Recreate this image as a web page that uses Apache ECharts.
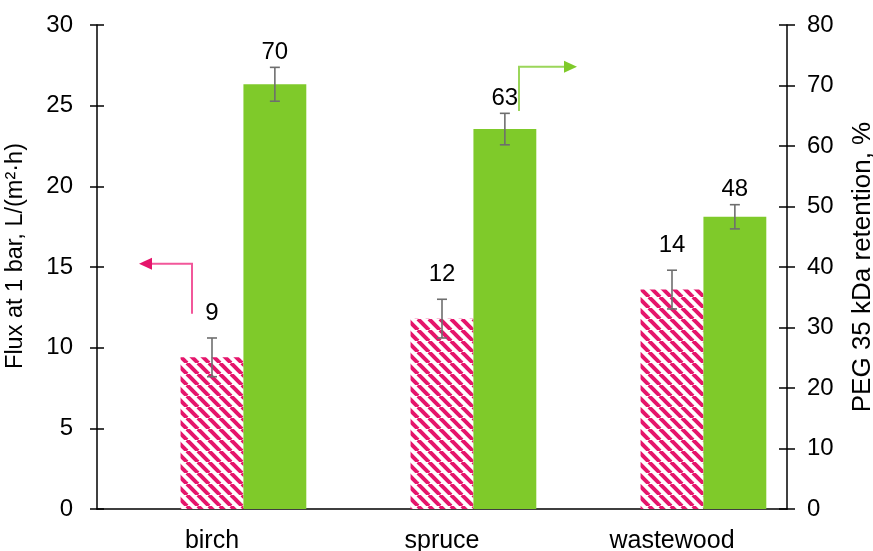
<!DOCTYPE html>
<html>
<head>
<meta charset="utf-8">
<script src="https://cdn.jsdelivr.net/npm/echarts@6/dist/echarts.min.js"></script>
<style>
  html, body { margin: 0; padding: 0; background: #fff; }
  #chart { width: 873px; height: 551px; }
</style>
</head>
<body>
<div id="chart"></div>
<script>
// Wood types
const categories = ['birch', 'spruce', 'wastewood'];
// Pure water flux at 1 bar, L/(m2·h), with standard deviation
const flux = [9.4, 11.8, 13.6];
const fluxErr = [1.2, 1.2, 1.2];
// PEG 35 kDa retention, %, with standard deviation
const retention = [70.2, 62.8, 48.3];
const retentionErr = [2.8, 2.6, 2.0];
// Axis scales
const fluxAxis = { min: 0, max: 30, interval: 5 };
const retentionAxis = { min: 0, max: 80, interval: 10 };

const FONT = '"Liberation Sans", Arial, sans-serif';
const PINK = '#E5156B';
const GREEN = '#7FCA2A';
const CAT_GAP = 0.18;   // free share of each category band
const SLOTS = 3;        // bar slots per category: empty, flux, retention

// diagonal pink/white hatch
function hatch() {
  const s = 11;
  const c = document.createElement('canvas');
  c.width = s; c.height = s;
  const g = c.getContext('2d');
  g.fillStyle = '#fff';
  g.fillRect(0, 0, s, s);
  g.strokeStyle = PINK;
  g.lineWidth = 4;
  for (const k of [-s, 0, s]) {
    g.beginPath();
    g.moveTo(k, 0);
    g.lineTo(k + s, s);
    g.stroke();
  }
  return c;
}

// error bar + value label drawn at the centre of one bar slot
function errorBar(slot, labelGap) {
  return function (params, api) {
    const cat = api.value(0), v = api.value(1), e = api.value(2);
    const band = api.size([1, 0])[0];
    const barW = band * (1 - CAT_GAP) / SLOTS;
    const cx = api.coord([cat, 0])[0] + slot * barW;
    const hi = api.coord([cat, v + e])[1];
    const lo = api.coord([cat, v - e])[1];
    const cap = 5;
    const st = { stroke: '#6e6e6e', lineWidth: 1.6 };
    return {
      type: 'group',
      children: [
        { type: 'line', shape: { x1: cx, y1: hi, x2: cx, y2: lo }, style: st },
        { type: 'line', shape: { x1: cx - cap, y1: hi, x2: cx + cap, y2: hi }, style: st },
        { type: 'line', shape: { x1: cx - cap, y1: lo, x2: cx + cap, y2: lo }, style: st },
        {
          type: 'text',
          style: {
            x: cx, y: hi - labelGap,
            text: String(Math.round(v)),
            fill: '#000', font: '24px ' + FONT,
            align: 'center', verticalAlign: 'middle'
          }
        }
      ]
    };
  };
}

const axisLine = { show: true, lineStyle: { color: '#000', width: 1.5 } };
const tickStyle = { color: '#000', width: 1.5 };

const chart = echarts.init(document.getElementById('chart'), null, { renderer: 'canvas' });

chart.setOption({
  animation: false,
  backgroundColor: '#fff',
  textStyle: { fontFamily: FONT },
  grid: {
    left: 97, right: 86, top: 25, bottom: 42,
    containLabel: false, outerBoundsMode: 'none'
  },
  xAxis: {
    type: 'category',
    data: categories,
    axisLine: axisLine,
    axisTick: { show: false },
    axisLabel: { color: '#000', fontSize: 25, margin: 20, fontFamily: FONT }
  },
  yAxis: [
    {
      type: 'value', position: 'left',
      min: fluxAxis.min, max: fluxAxis.max, interval: fluxAxis.interval,
      name: 'Flux at 1 bar, L/(m²·h)',
      nameLocation: 'middle', nameGap: 69, nameRotate: 90,
      nameTextStyle: { color: '#000', fontSize: 23.5, fontFamily: FONT, padding: [0, 0, 0, 22] },
      axisLine: axisLine,
      axisTick: { show: true, length: 7, lineStyle: tickStyle },
      axisLabel: { color: '#000', fontSize: 24, margin: 24, fontFamily: FONT },
      splitLine: { show: false }
    },
    {
      type: 'value', position: 'right',
      min: retentionAxis.min, max: retentionAxis.max, interval: retentionAxis.interval,
      name: 'PEG 35 kDa retention, %',
      nameLocation: 'middle', nameGap: 63, nameRotate: 90,
      nameTextStyle: { color: '#000', fontSize: 26, fontFamily: FONT },
      axisLine: axisLine,
      axisTick: { show: true, length: 8, lineStyle: tickStyle },
      axisLabel: { color: '#000', fontSize: 24, margin: 20, fontFamily: FONT },
      splitLine: { show: false }
    },
    // inner halves of the crossing ticks
    {
      type: 'value', position: 'left',
      min: fluxAxis.min, max: fluxAxis.max, interval: fluxAxis.interval,
      axisLine: { show: false },
      axisTick: { show: true, inside: true, length: 7, lineStyle: tickStyle },
      axisLabel: { show: false }, splitLine: { show: false }
    },
    {
      type: 'value', position: 'right',
      min: retentionAxis.min, max: retentionAxis.max, interval: retentionAxis.interval,
      axisLine: { show: false },
      axisTick: { show: true, inside: true, length: 8, lineStyle: tickStyle },
      axisLabel: { show: false }, splitLine: { show: false }
    }
  ],
  series: [
    {
      // unused leading slot, keeps the flux bar centred on its category
      type: 'bar', name: 'empty', yAxisIndex: 0,
      data: categories.map(() => null),
      barGap: '0%', barCategoryGap: CAT_GAP * 100 + '%'
    },
    {
      type: 'bar', name: 'flux', yAxisIndex: 0,
      data: flux,
      barGap: '0%', barCategoryGap: CAT_GAP * 100 + '%',
      itemStyle: { color: { image: hatch(), repeat: 'repeat' } }
    },
    {
      type: 'bar', name: 'retention', yAxisIndex: 1,
      data: retention,
      barGap: '0%', barCategoryGap: CAT_GAP * 100 + '%',
      itemStyle: { color: GREEN }
    },
    {
      type: 'custom', name: 'flux error', yAxisIndex: 0, z: 5,
      renderItem: errorBar(0, 25),
      encode: { x: 0, y: 1 },
      data: flux.map((v, i) => [i, v, fluxErr[i]])
    },
    {
      type: 'custom', name: 'retention error', yAxisIndex: 1, z: 5,
      renderItem: errorBar(1, 15),
      encode: { x: 0, y: 1 },
      data: retention.map((v, i) => [i, v, retentionErr[i]])
    }
  ]
});

// axis-pointing annotation arrows, anchored in data coordinates
function arrow(cat, dx, yAxisIndex, yFrom, yTo, run, color, headColor) {
  const cx = chart.convertToPixel({ xAxisIndex: 0 }, cat) + dx;
  const y0 = chart.convertToPixel({ yAxisIndex: yAxisIndex }, yFrom);
  const y1 = chart.convertToPixel({ yAxisIndex: yAxisIndex }, yTo);
  const dir = Math.sign(run);
  const xEnd = cx + run;
  const head = 13, half = 6;
  return [
    {
      type: 'polyline',
      shape: { points: [[cx, y0], [cx, y1], [xEnd, y1]] },
      style: { stroke: color, lineWidth: 2, fill: null }
    },
    {
      type: 'polygon',
      shape: { points: [[xEnd, y1 - half], [xEnd, y1 + half], [xEnd + dir * head, y1]] },
      style: { fill: headColor }
    }
  ];
}

chart.setOption({
  graphic: [
    ...arrow('birch', -20, 0, 12.1, 15.2, -40, '#F2579A', PINK),
    ...arrow('spruce', 77, 1, 65.8, 73.1, 45, '#9BD65A', GREEN)
  ]
});
</script>
</body>
</html>
